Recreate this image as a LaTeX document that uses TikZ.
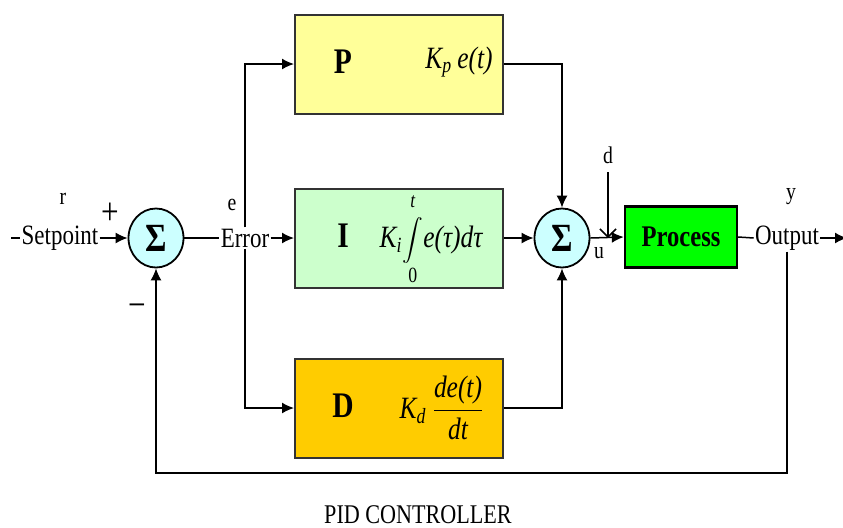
\documentclass[tikz,border=0pt]{standalone}
\usepackage{fix-cm}
\usepackage{amsmath}
\usepackage{fontspec}
\setmainfont{Liberation Serif}[FakeStretch=0.82]
\usetikzlibrary{arrows.meta,shapes.geometric}

\definecolor{pfill}{RGB}{255,255,153}
\definecolor{ifill}{RGB}{204,255,204}
\definecolor{dfill}{RGB}{255,204,0}
\definecolor{sumfill}{RGB}{204,255,255}
\definecolor{procfill}{RGB}{0,255,0}
\definecolor{edgegray}{RGB}{51,51,51}

\newcommand{\pidint}{\mathop{\vcenter{\hbox{\scalebox{0.72}{$\displaystyle\int$}}}}}

\tikzset{
  blockbox/.style={draw=edgegray, line width=1pt, minimum width=104pt, minimum height=49.5pt},
  sumnode/.style={ellipse, draw=black, line width=0.9pt, fill=sumfill, minimum width=27.5pt,
    minimum height=29.5pt, inner sep=0pt, font=\fontsize{20}{20}\selectfont\bfseries},
  sig/.style={line width=0.75pt},
  arr/.style={sig, -{Latex[length=6pt,width=5.5pt]}},
  lab/.style={font=\fontsize{12}{12}\selectfont, inner sep=0pt},
  txt/.style={font=\fontsize{14}{14}\selectfont, inner sep=0.5pt},
  letter/.style={font=\fontsize{18}{18}\selectfont\bfseries, inner sep=0pt},
  formula/.style={font=\fontsize{15.5}{15.5}\selectfont\itshape, inner sep=0pt},
}

\begin{document}
\begin{tikzpicture}[x=0.5pt, y=-0.5pt]
  \useasboundingbox (0,0) rectangle (843,527);
  % P, I and D blocks
  \foreach \n/\y/\c in {P/64/pfill, I/238/ifill, D/408/dfill} {
    \node[blockbox, fill=\c] (\n) at (399,\y) {};
    \node[letter] at (343,\y-2) {\n};
  }
  \node[formula] (kp) at (459,62) {K\textsubscript{p}\,e(t)};
  \node[formula] (ki) at (431,239) {K\textsubscript{i}$\pidint\limits_{\text{\upshape 0}}^{\raisebox{2pt}{\fontsize{10.5}{10.5}\selectfont\itshape t}}$e(τ)dτ};
  \node[formula] (kd) at (442,408) {K\textsubscript{d}\,$\dfrac{\text{de(t)}}{\text{dt}}$};

  \node[sumnode] (S1) at (156,238) {Σ};
  \node[sumnode] (S2) at (562,238) {Σ};
  \node[draw=black, line width=1.2pt, fill=procfill, minimum width=56pt, minimum height=30.5pt,
    font=\fontsize{15}{15}\selectfont\bfseries] (proc) at (681,237) {Process};

  \node[txt] (setp) at (60,238) {Setpoint};
  \node[txt, fill=white] (err) at (245,238) {Error};
  \node[txt] (out) at (787,238) {Output};

  \coordinate (rin) at (11,238);
  \coordinate (yout) at (847,238);
  \coordinate (dtop) at (608,172);
  \coordinate (fb) at (0,473);

  \draw[sig] (rin) -- (setp.west);
  \draw[arr] (setp.east) -- (S1.west);
  \draw[sig] (S1.east) -- (err.west);
  \draw[arr] (err.east) -- (I.west);
  \draw[arr] (err.north) |- (P.west);
  \draw[arr] (err.south) |- (D.west);
  \draw[arr] (P.east) -| (S2.north);
  \draw[arr] (I.east) -- (S2.west);
  \draw[arr] (D.east) -| (S2.south);
  \draw[arr] (S2.east) -- (proc.west);
  \draw[sig, -{Straight Barb[length=4pt,width=8pt]}] (dtop) -- (dtop |- S2.east);
  \draw[sig] (proc.east) -- (out.west);
  \draw[arr] (out.east) -- (yout);
  \draw[arr] (out.south) -- (out.south |- fb) -| (S1.south);

  % signal names
  \node[lab] (r) at (63,199) {r};
  \node[lab] (e) at (232,205) {e};
  \node[lab] (d) at (608,155) {d};
  \node[lab] (u) at (599,253) {u};
  \node[lab] (y) at (791,197) {y};
  \node[txt, font=\fontsize{19}{19}\selectfont] (plus) at (110,214) {+};
  \node[txt, font=\fontsize{19}{19}\selectfont] (minus) at (137,311) {−};

  \node[font=\fontsize{13.5}{13.5}\selectfont] (title) at (418,515) {PID CONTROLLER};
\end{tikzpicture}
\end{document}
